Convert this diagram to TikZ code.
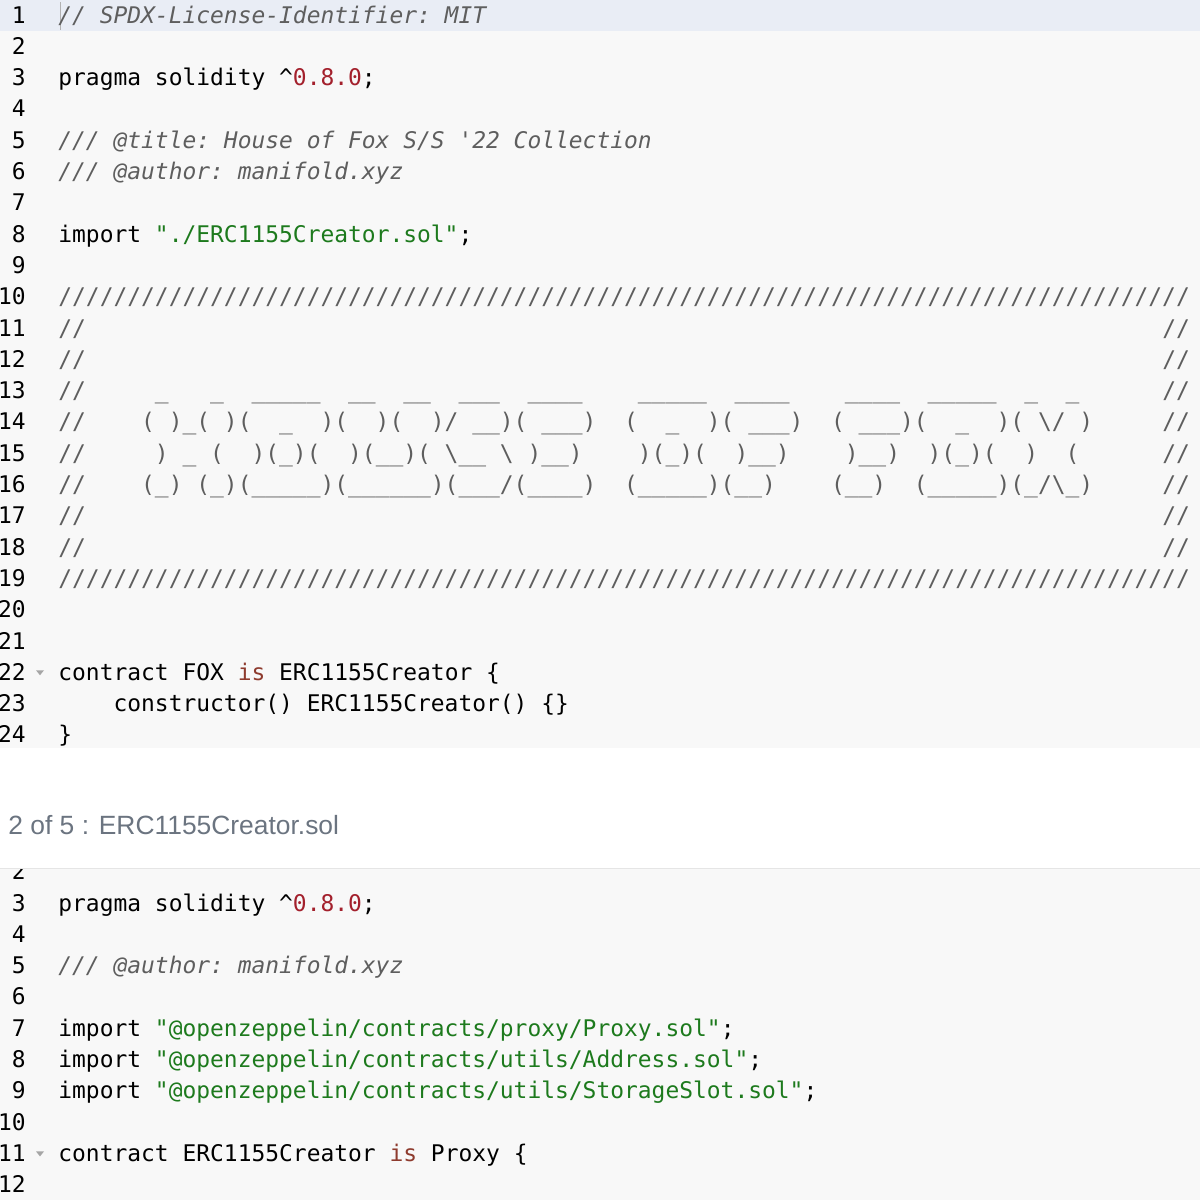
\documentclass[tikz,border=0pt]{standalone}
\usepackage{fontspec}
\setmonofont{DejaVu Sans Mono}
\newfontfamily\uisans{Liberation Sans}
\usepackage{xcolor}
\definecolor{codebg}{HTML}{F8F8F8}
\definecolor{hlbg}{HTML}{E9EDF5}
\definecolor{cmtgray}{HTML}{5E5E5E}
\definecolor{kwbrown}{HTML}{8E3B2E}
\definecolor{numred}{HTML}{A3202C}
\definecolor{strgreen}{HTML}{1D7A1D}
\definecolor{tabgray}{HTML}{6B7480}
\newcommand\codesz{\fontsize{11.46}{14}\selectfont\ttfamily}
\newlength\cw
\newcommand\cm[1]{\textcolor{cmtgray}{\itshape #1}}
\newcommand\kw[1]{\textcolor{kwbrown}{#1}}
\newcommand\nm[1]{\textcolor{numred}{#1}}
\newcommand\st[1]{\textcolor{strgreen}{#1}}
\newcommand\slashrow{//////////////////////////////////////////////////////////////////////////////////}
\newcommand\blankrow{//\hspace*{78\cw}//}
\begin{document}
\settowidth\cw{\codesz 0}
\begin{tikzpicture}[x=0.5pt,y=-0.5pt,
  code/.style={anchor=base west,inner sep=0pt,font=\codesz},
  lnum/.style={anchor=base east,inner sep=0pt,font=\codesz},
  art/.style={code,text=cmtgray}]
\useasboundingbox (0,0) rectangle (1200,1200);
% backgrounds
\fill[codebg] (0,0) rectangle (1200,748);
\fill[hlbg] (0,0) rectangle (1200,31);
\draw[gray!60] (60,2) -- (60,30);
\fill[codebg] (0,868) rectangle (1200,1200);
\draw[black!10] (0,868) -- (1200,868);
% first file
\foreach \i in {1,...,24}
  \node[lnum] (n\i) at (26,{23+(\i-1)*31.3}) {\i};
\node[code] (l1) at (58,23) {\cm{// SPDX-License-Identifier: MIT}};
\node[code] (l3) at (58,{23+2*31.3}) {pragma solidity \textasciicircum\nm{0.8.0};};
\node[code] (l5) at (58,{23+4*31.3}) {\cm{/// @title: House of Fox S/S '22 Collection}};
\node[code] (l6) at (58,{23+5*31.3}) {\cm{/// @author: manifold.xyz}};
\node[code] (l8) at (58,{23+7*31.3}) {import \st{"./ERC1155Creator.sol"};};
\node[art] (l10) at (58,{23+9*31.3}) {\slashrow};
\node[art] (l11) at (58,{23+10*31.3}) {\blankrow};
\node[art] (l12) at (58,{23+11*31.3}) {\blankrow};
\node[art] (l13) at (58,{23+12*31.3}) {//~~~~%
~\_~~~\_~~\_\_\_\_\_~~\_\_~~\_\_~~\_\_\_~~\_\_\_\_~~~%
~\_\_\_\_\_~~\_\_\_\_~~~%
~\_\_\_\_~~\_\_\_\_\_~~\_~~\_~~~~~~//};
\node[art] (l14) at (58,{23+13*31.3}) {//~~~~%
(~)\_(~)(~~\_~~)(~~)(~~)/~\_\_)(~\_\_\_)~~%
(~~\_~~)(~\_\_\_)~~%
(~\_\_\_)(~~\_~~)(~\textbackslash/~)~~~~~//};
\node[art] (l15) at (58,{23+14*31.3}) {//~~~~%
~)~\_~(~~)(\_)(~~)(\_\_)(~\textbackslash\_\_~\textbackslash~)\_\_)~~~%
~)(\_)(~~)\_\_)~~~%
~)\_\_)~~)(\_)(~~)~~(~~~~~~//};
\node[art] (l16) at (58,{23+15*31.3}) {//~~~~%
(\_)~(\_)(\_\_\_\_\_)(\_\_\_\_\_\_)(\_\_\_/(\_\_\_\_)~~%
(\_\_\_\_\_)(\_\_)~~~~%
(\_\_)~~(\_\_\_\_\_)(\_/\textbackslash\_)~~~~~//};
\node[art] (l17) at (58,{23+16*31.3}) {\blankrow};
\node[art] (l18) at (58,{23+17*31.3}) {\blankrow};
\node[art] (l19) at (58,{23+18*31.3}) {\slashrow};
\node[code] (l22) at (58,{23+21*31.3}) {contract FOX \kw{is} ERC1155Creator \{};
\node[code] (l23) at (58,{23+22*31.3}) {~~~~constructor() ERC1155Creator() \{\}};
\node[code] (l24) at (58,{23+23*31.3}) {\}};
\fill[gray!70] (36,{15+21*31.3-2}) -- (44,{15+21*31.3-2}) -- (40,{15+21*31.3+3}) -- cycle;
% tab title
\node[anchor=base west,inner sep=0pt,text=tabgray,font=\uisans\fontsize{13.2}{16}\selectfont] (tab) at (8,834) {2 of 5 : ERC1155Creator.sol};
% second file
\begin{scope}
\clip (0,869) rectangle (1200,1200);
\foreach \i in {2,...,12}
  \node[lnum] (m\i) at (26,{911+(\i-3)*31.3}) {\i};
\node[code] (k3) at (58,911) {pragma solidity \textasciicircum\nm{0.8.0};};
\node[code] (k5) at (58,{911+2*31.3}) {\cm{/// @author: manifold.xyz}};
\node[code] (k7) at (58,{911+4*31.3}) {import \st{"@openzeppelin/contracts/proxy/Proxy.sol"};};
\node[code] (k8) at (58,{911+5*31.3}) {import \st{"@openzeppelin/contracts/utils/Address.sol"};};
\node[code] (k9) at (58,{911+6*31.3}) {import \st{"@openzeppelin/contracts/utils/StorageSlot.sol"};};
\node[code] (k11) at (58,{911+8*31.3}) {contract ERC1155Creator \kw{is} Proxy \{};
\fill[gray!70] (36,{903+8*31.3-2}) -- (44,{903+8*31.3-2}) -- (40,{903+8*31.3+3}) -- cycle;
\end{scope}
\end{tikzpicture}
\end{document}
